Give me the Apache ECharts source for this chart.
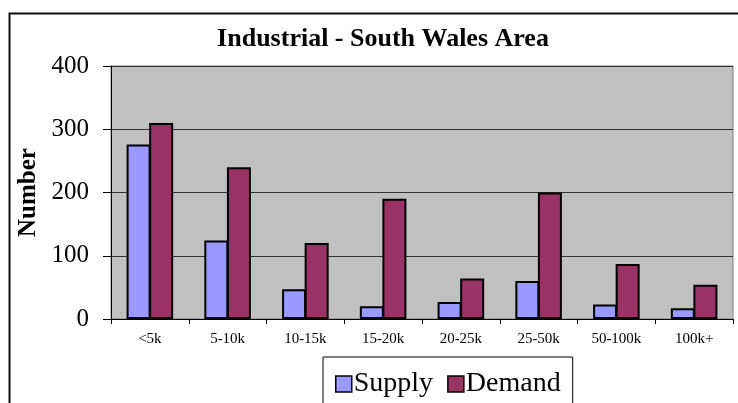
<!DOCTYPE html>
<html>
<head>
<meta charset="utf-8">
<script src="https://cdn.jsdelivr.net/npm/echarts@6/dist/echarts.min.js"></script>
<style>
  html, body { margin: 0; padding: 0; background: #fff; }
  #chart { width: 738px; height: 403px; }
</style>
</head>
<body>
<div id="chart"></div>
<script>
const categories = ['<5k', '5-10k', '10-15k', '15-20k', '20-25k', '25-50k', '50-100k', '100k+'];
const supply = [276, 124, 47, 20, 27, 60, 23, 17];
const demand = [310, 240, 120, 190, 64, 200, 87, 54];
const yTicks = [0, 100, 200, 300, 400];

const serif = 'Liberation Serif, Times New Roman, serif';

const getOption = () => {
  return {
    animation: false,
    title: {
      text: 'Industrial - South Wales Area',
      left: 378,
      textAlign: 'center',
      top: 21,
      textStyle: { fontFamily: serif, fontSize: 26, fontWeight: 'bold', color: '#000' }
    },
    graphic: [{
      type: 'rect',
      left: 7, top: 11,
      shape: { width: 800, height: 500 },
      style: { fill: 'none', stroke: '#111', lineWidth: 2 },
      silent: true
    }],
    legend: {
      left: 323,
      top: 357,
      padding: [13, 12, 20, 12],
      borderColor: '#000',
      borderWidth: 1,
      itemWidth: 16,
      itemHeight: 16,
      itemGap: 14,
      textStyle: { fontFamily: serif, fontSize: 28, color: '#000', padding: [0, 0, 0, -3] },
      data: [
        { name: 'Supply', icon: 'rect', itemStyle: { color: '#9999FF', borderColor: '#000', borderWidth: 1.5 } },
        { name: 'Demand', icon: 'rect', itemStyle: { color: '#993366', borderColor: '#000', borderWidth: 1.5 } }
      ]
    },
    grid: {
      left: 111, right: 5, top: 66, bottom: 84,
      show: true,
      backgroundColor: '#C0C0C0',
      borderColor: '#808080',
      borderWidth: 1
    },
    xAxis: {
      type: 'category',
      data: categories,
      axisLine: { lineStyle: { color: '#000', width: 1 } },
      axisTick: { show: true, interval: 0, length: 5, lineStyle: { color: '#000' } },
      axisLabel: { interval: 0, margin: 13, fontFamily: serif, fontSize: 15, color: '#000' }
    },
    yAxis: {
      type: 'value',
      min: yTicks[0],
      max: yTicks[yTicks.length - 1],
      interval: 100,
      name: 'Number',
      nameLocation: 'middle',
      nameGap: 63,
      nameTextStyle: { fontFamily: serif, fontSize: 25, fontWeight: 'bold', color: '#000' },
      axisLine: { show: true, lineStyle: { color: '#000', width: 1 } },
      axisTick: { show: true, length: 8, lineStyle: { color: '#000' } },
      axisLabel: { margin: 22, fontFamily: serif, fontSize: 25, color: '#000' },
      splitLine: { show: true, lineStyle: { color: '#333', width: 1 } }
    },
    series: [
      {
        name: 'Supply',
        type: 'bar',
        data: supply,
        barWidth: 24,
        barGap: '-6%',
        itemStyle: { color: '#9999FF', borderColor: '#000', borderWidth: 2 }
      },
      {
        name: 'Demand',
        type: 'bar',
        data: demand,
        barWidth: 24,
        barGap: '-6%',
        itemStyle: { color: '#993366', borderColor: '#000', borderWidth: 2 }
      }
    ]
  };
};

window.addEventListener('load', () => {
  const chart = echarts.init(document.getElementById('chart'), null, { renderer: 'canvas' });
  chart.setOption(getOption());
});
</script>
</body>
</html>
